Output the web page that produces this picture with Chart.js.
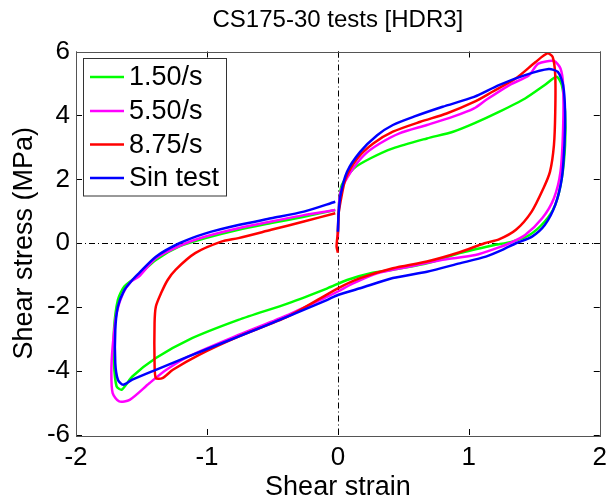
<!DOCTYPE html>
<html>
<head>
<meta charset="utf-8">
<script src="https://cdn.jsdelivr.net/npm/chart.js@4"></script>
<style>
  html, body { margin: 0; padding: 0; background: #fff; }
  #wrap { width: 614px; height: 499px; }
</style>
</head>
<body>
<div id="wrap"><canvas id="hdr3" width="614" height="499"></canvas></div>
<script>
// loop by loop (strain, stress in MPa)
var strainGreen = [0.0, 0.005, 0.01, 0.03, 0.12, 0.25, 0.42, 0.68, 0.88, 1.04, 1.23, 1.43, 1.58, 1.67, 1.71, 1.735, 1.735, 1.71, 1.66, 1.58, 1.46, 1.33, 1.18, 0.93, 0.68, 0.42, 0.25, 0.07, -0.08, -0.38, -0.76, -1.14, -1.39, -1.57, -1.65, -1.69, -1.71, -1.71, -1.68, -1.63, -1.52, -1.39, -1.21, -1.01, -0.76, -0.51, -0.26, -0.02];
var stressGreen = [0.3, 0.8, 1.3, 1.82, 2.34, 2.66, 2.97, 3.28, 3.49, 3.75, 4.11, 4.53, 4.95, 5.21, 4.95, 4.11, 3.07, 2.03, 1.2, 0.68, 0.25, 0.05, -0.07, -0.31, -0.63, -0.83, -0.94, -1.15, -1.41, -1.88, -2.40, -3.02, -3.59, -4.17, -4.58, -4.48, -3.75, -2.71, -1.77, -1.35, -0.99, -0.52, -0.1, 0.16, 0.42, 0.63, 0.83, 1.04];

var strainMagenta = [0.0, 0.005, 0.02, 0.10, 0.20, 0.32, 0.47, 0.68, 0.88, 1.04, 1.13, 1.31, 1.46, 1.53, 1.65, 1.70, 1.72, 1.72, 1.70, 1.65, 1.56, 1.43, 1.31, 1.23, 1.05, 0.80, 0.55, 0.30, 0.12, 0.0, -0.08, -0.38, -0.76, -1.14, -1.31, -1.44, -1.59, -1.67, -1.72, -1.73, -1.72, -1.69, -1.64, -1.58, -1.52, -1.39, -1.19, -1.01, -0.76, -0.51, -0.26, -0.02];
var stressMagenta = [0.2, 0.9, 1.61, 2.24, 2.76, 3.12, 3.44, 3.70, 3.96, 4.22, 4.48, 4.95, 5.26, 5.62, 5.70, 5.47, 4.95, 3.59, 2.24, 1.41, 0.78, 0.26, 0.0, -0.13, -0.37, -0.52, -0.73, -0.94, -1.25, -1.51, -1.67, -2.24, -2.87, -3.54, -3.96, -4.38, -4.90, -4.95, -4.69, -4.06, -3.23, -2.19, -1.56, -1.20, -1.04, -0.47, -0.05, 0.21, 0.47, 0.68, 0.88, 1.04];

var strainRed = [0.0, -0.01, 0.0, 0.005, 0.02, 0.06, 0.15, 0.27, 0.42, 0.63, 0.83, 1.04, 1.18, 1.36, 1.51, 1.60, 1.64, 1.66, 1.66, 1.65, 1.62, 1.57, 1.48, 1.36, 1.23, 1.12, 0.93, 0.68, 0.42, 0.17, 0.0, -0.38, -0.76, -1.06, -1.26, -1.34, -1.39, -1.40, -1.40, -1.39, -1.35, -1.30, -1.24, -1.09, -0.89, -0.76, -0.51, -0.26, -0.02];
var stressRed = [-0.3, -0.1, 0.36, 0.9, 1.3, 2.03, 2.66, 3.12, 3.49, 3.80, 4.06, 4.42, 4.74, 5.16, 5.67, 5.94, 5.83, 5.26, 4.11, 3.07, 2.24, 1.72, 0.99, 0.42, 0.12, 0.0, -0.28, -0.57, -0.78, -1.09, -1.41, -2.29, -2.92, -3.49, -3.96, -4.22, -4.22, -3.75, -2.5, -1.98, -1.56, -1.15, -0.83, -0.31, 0.05, 0.16, 0.42, 0.68, 0.94];

var strainBlue = [0.0, 0.005, 0.02, 0.07, 0.17, 0.30, 0.42, 0.58, 0.80, 1.04, 1.23, 1.43, 1.61, 1.68, 1.72, 1.735, 1.73, 1.71, 1.66, 1.58, 1.48, 1.36, 1.26, 1.13, 0.93, 0.68, 0.42, 0.17, 0.0, -0.08, -0.38, -0.76, -1.14, -1.39, -1.57, -1.64, -1.68, -1.70, -1.70, -1.68, -1.63, -1.57, -1.52, -1.39, -1.21, -1.01, -0.76, -0.51, -0.26, -0.02];
var stressBlue = [0.36, 0.9, 1.5, 2.24, 2.86, 3.38, 3.70, 3.96, 4.27, 4.58, 4.95, 5.26, 5.45, 5.36, 4.95, 4.11, 3.07, 2.03, 1.20, 0.57, 0.2, 0.0, -0.2, -0.42, -0.63, -0.89, -1.09, -1.41, -1.62, -1.77, -2.29, -2.92, -3.54, -3.96, -4.27, -4.43, -4.27, -3.75, -2.71, -1.98, -1.46, -1.15, -0.94, -0.42, 0.0, 0.31, 0.57, 0.78, 0.99, 1.30];

var seriesNames = ['1.50/s', '5.50/s', '8.75/s', 'Sin test'];
var seriesColors = ['#00ff00', '#ff00ff', '#ff0000', '#0000ff'];
var xTicks = [-2, -1, 0, 1, 2];
var yTicks = [-6, -4, -2, 0, 2, 4, 6];
var chartTitle = 'CS175-30 tests [HDR3]';

function pairs(xs, ys) {
    var out = [];
    for (var i = 0; i < xs.length; i++) out.push({ x: xs[i], y: ys[i] });
    return out;
}

var FONT = '"Liberation Sans", Arial, Helvetica, sans-serif';

// matlab-ish box, inward ticks, dash-dot zero lines, legend in the corner
var matlabAxes = {
    id: 'matlabAxes',
    beforeDatasetsDraw: function (chart) {
        var ctx = chart.ctx, a = chart.chartArea;
        var xs = chart.scales.x, ys = chart.scales.y;
        ctx.save();
        ctx.strokeStyle = '#000';
        ctx.lineWidth = 1;
        ctx.setLineDash([6, 3, 1, 3]);
        var x0 = Math.round(xs.getPixelForValue(0)) + 0.5;
        var y0 = Math.round(ys.getPixelForValue(0)) + 0.5;
        ctx.beginPath();
        ctx.moveTo(x0, a.top); ctx.lineTo(x0, a.bottom);
        ctx.moveTo(a.left, y0); ctx.lineTo(a.right, y0);
        ctx.stroke();
        ctx.restore();
    },
    afterDatasetsDraw: function (chart) {
        var ctx = chart.ctx, a = chart.chartArea;
        var xs = chart.scales.x, ys = chart.scales.y;
        ctx.save();
        // title centred over the axes, like matlab does it
        ctx.fillStyle = '#000';
        ctx.font = '24px ' + FONT;
        ctx.textAlign = 'center';
        ctx.textBaseline = 'middle';
        ctx.fillText(chartTitle, (a.left + a.right) / 2, 20);

        ctx.strokeStyle = '#000';
        ctx.lineWidth = 1;
        ctx.beginPath();
        var t = 6;
        xTicks.forEach(function (v) {
            var p = Math.round(xs.getPixelForValue(v)) + 0.5;
            ctx.moveTo(p, a.bottom); ctx.lineTo(p, a.bottom - t);
            ctx.moveTo(p, a.top); ctx.lineTo(p, a.top + t);
        });
        yTicks.forEach(function (v) {
            var p = Math.round(ys.getPixelForValue(v)) + 0.5;
            ctx.moveTo(a.left, p); ctx.lineTo(a.left + t, p);
            ctx.moveTo(a.right, p); ctx.lineTo(a.right - t, p);
        });
        ctx.stroke();
        ctx.strokeStyle = '#555';
        ctx.strokeRect(Math.round(a.left) + 0.5, Math.round(a.top) + 0.5,
                       Math.round(a.right - a.left), Math.round(a.bottom - a.top));

        // legend
        var lx = 83.5, ly = 58.5, lw = 143, lh = 137.5;
        ctx.fillStyle = '#fff';
        ctx.fillRect(lx, ly, lw, lh);
        ctx.strokeStyle = '#333';
        ctx.strokeRect(lx, ly, lw, lh);
        ctx.font = '27px ' + FONT;
        ctx.textBaseline = 'middle';
        ctx.textAlign = 'left';
        var rows = [77, 111, 144.5, 178];
        chart.data.datasets.forEach(function (ds, i) {
            ctx.strokeStyle = ds.borderColor;
            ctx.lineWidth = 2.5;
            ctx.beginPath();
            ctx.moveTo(90, rows[i]); ctx.lineTo(124, rows[i]);
            ctx.stroke();
            ctx.fillStyle = '#000';
            ctx.fillText(ds.label, 129, rows[i] + 1);
        });
        ctx.restore();
    }
};

var loops = [[strainGreen, stressGreen], [strainMagenta, stressMagenta], [strainRed, stressRed], [strainBlue, stressBlue]];

var chart = new Chart(document.getElementById('hdr3').getContext('2d'), {
    type: 'scatter',
    data: {
        datasets: loops.map(function (l, i) {
            return {
                label: seriesNames[i],
                data: pairs(l[0], l[1]),
                showLine: true,
                borderColor: seriesColors[i],
                backgroundColor: seriesColors[i],
                borderWidth: 2.5,
                pointRadius: 0,
                tension: 0.25,
                order: 4 - i
            };
        })
    },
    options: {
        responsive: false,
        animation: false,
        layout: { padding: { left: 0, right: 8.5, top: 51.5, bottom: 0 } },
        plugins: {
            legend: { display: false },
            tooltip: { enabled: false },
            title: { display: false }
        },
        scales: {
            x: {
                type: 'linear', min: -2, max: 2,
                afterBuildTicks: function (s) { s.ticks = xTicks.map(function (v) { return { value: v }; }); },
                afterFit: function (s) { s.height = 64; },
                grid: { display: false, drawTicks: false },
                border: { display: false },
                ticks: { color: '#000', font: { family: FONT, size: 26 }, padding: 7 },
                title: { display: true, text: 'Shear strain', color: '#000', font: { family: FONT, size: 27, lineHeight: 1 }, padding: { top: 0, bottom: -2 } }
            },
            y: {
                type: 'linear', min: -6, max: 6,
                afterBuildTicks: function (s) { s.ticks = yTicks.map(function (v) { return { value: v }; }); },
                afterFit: function (s) { s.width = 76; },
                grid: { display: false, drawTicks: false },
                border: { display: false },
                ticks: { color: '#000', font: { family: FONT, size: 26 }, padding: 6 },
                title: { display: true, text: 'Shear stress (MPa)', color: '#000', font: { family: FONT, size: 27, lineHeight: 1 }, padding: { top: 11, bottom: 0 } }
            }
        }
    },
    plugins: [matlabAxes]
});
</script>
</body>
</html>
